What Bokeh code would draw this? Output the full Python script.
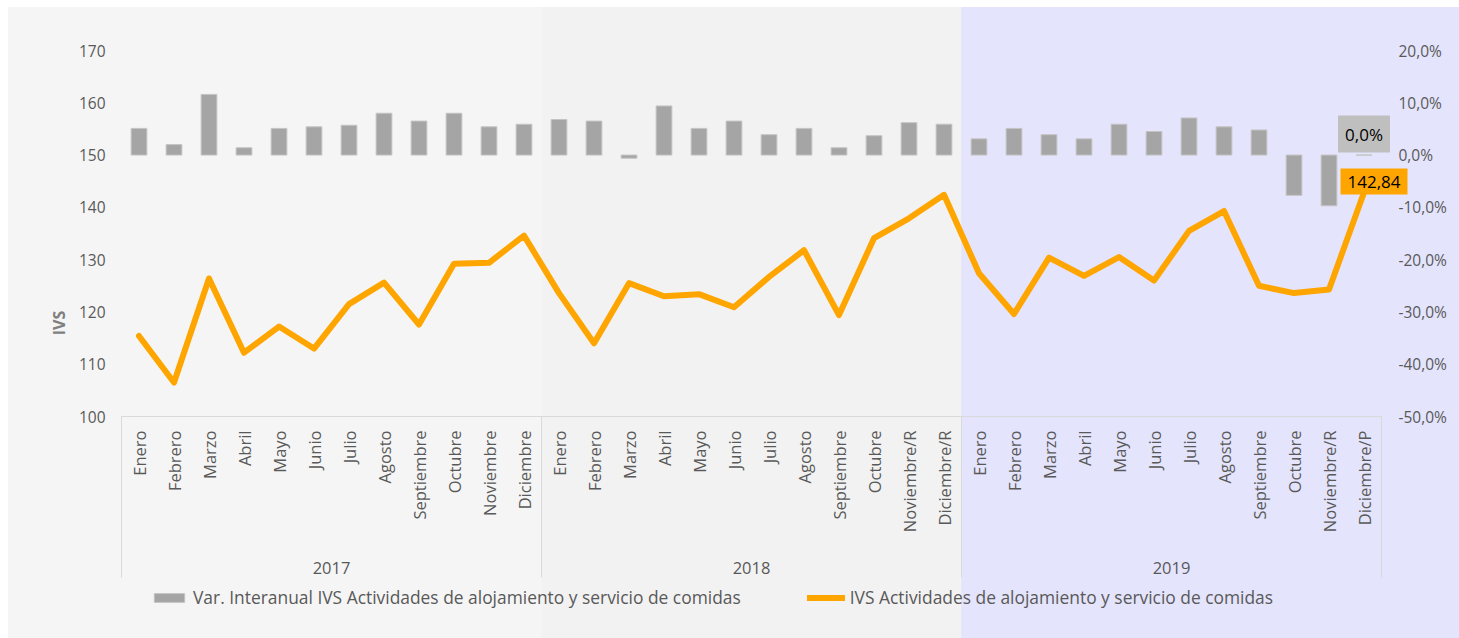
import math
from bokeh.plotting import figure
from bokeh.models import (FactorRange, Range1d, LinearAxis, CustomJSTickFormatter, BoxAnnotation,
                          Label, Legend, LegendItem, FixedTicker, ColumnDataSource)
from bokeh.core.properties import value
from bokeh.embed import file_html
from bokeh.resources import INLINE

# ---------------- data ----------------
years = ["2017", "2018", "2019"]
months_2017 = ["Enero", "Febrero", "Marzo", "Abril", "Mayo", "Junio", "Julio", "Agosto",
               "Septiembre", "Octubre", "Noviembre", "Diciembre"]
months_2018 = ["Enero", "Febrero", "Marzo", "Abril", "Mayo", "Junio", "Julio", "Agosto",
               "Septiembre", "Octubre", "Noviembre/R", "Diciembre/R"]
months_2019 = ["Enero", "Febrero", "Marzo", "Abril", "Mayo", "Junio", "Julio", "Agosto",
               "Septiembre", "Octubre", "Noviembre/R", "Diciembre/P"]

ivs_2017 = [115.4, 106.5, 126.4, 112.2, 117.2, 113.0, 121.5, 125.6, 117.6, 129.2, 129.4, 134.6]
ivs_2018 = [123.6, 114.0, 125.5, 123.0, 123.4, 120.9, 126.7, 131.8, 119.4, 134.1, 137.9, 142.4]
ivs_2019 = [127.4, 119.6, 130.4, 126.9, 130.5, 126.0, 135.5, 139.3, 125.0, 123.6, 124.3, 142.84]

var_2017 = [5.1, 2.0, 11.6, 1.4, 5.1, 5.4, 5.7, 8.0, 6.5, 8.0, 5.4, 5.9]
var_2018 = [6.8, 6.5, -0.6, 9.4, 5.1, 6.5, 3.9, 5.1, 1.4, 3.7, 6.2, 5.9]
var_2019 = [3.1, 5.1, 3.9, 3.1, 5.9, 4.5, 7.1, 5.4, 4.8, -7.7, -9.7, 0.0]

left_ticks = [100, 110, 120, 130, 140, 150, 160, 170]
right_ticks = [-50, -40, -30, -20, -10, 0, 10, 20]

bar_name = "Var. Interanual IVS Actividades de alojamiento y servicio de comidas"
line_name = "IVS Actividades de alojamiento y servicio de comidas"

# ---------------- layout constants (pixels) ----------------
W, H = 1459, 638
WHITE_L, WHITE_T = 8, 7          # white page strip left/top
PLOT_L, PLOT_R = 121, 1381       # category area
PLOT_T, PLOT_B = 50, 416         # value area
PAD = 28                         # frame extends beyond the category area
SEP_B = 577                      # bottom of the category box lines

month_lists = [months_2017, months_2018, months_2019]
factors = [(y, m) for y, ms in zip(years, month_lists) for m in ms]
ivs = ivs_2017 + ivs_2018 + ivs_2019
var = var_2017 + var_2018 + var_2019
src = ColumnDataSource(dict(x=factors, ivs=ivs, var=var))

n = len(factors)
step = (PLOT_R - PLOT_L) / n
k = (PLOT_B - PLOT_T) / (left_ticks[-1] - left_ticks[0])   # px per unit (both axes)

y_start = left_ticks[0] - (H - PLOT_B) / k
y_end = left_ticks[-1] + (PLOT_T - WHITE_T) / k
p_start = right_ticks[0] - (H - PLOT_B) / k
p_end = right_ticks[-1] + (PLOT_T - WHITE_T) / k
y_sep = left_ticks[0] - (SEP_B - PLOT_B) / k

edges = [0]
for ms in month_lists:
    edges.append(edges[-1] + len(ms))
band_colors = ["#F5F5F5", "#F2F2F2", "#E4E4FC"]

GREY_TXT = "#595959"
FONT = "Open Sans"

frame_l = PLOT_L - PAD
frame_r = PLOT_R + PAD

p = figure(width=W, height=H,
           x_range=FactorRange(factors=factors, group_padding=0, factor_padding=0,
                               range_padding=PAD / step, range_padding_units="absolute"),
           y_range=Range1d(y_start, y_end),
           output_backend="svg", toolbar_location=None, x_axis_location=None,
           min_border_left=frame_l, min_border_right=W - frame_r,
           min_border_top=WHITE_T, min_border_bottom=0)
p.extra_y_ranges = {"pct": Range1d(p_start, p_end)}
p.background_fill_alpha = 0
p.border_fill_alpha = 0
p.outline_line_color = None
p.grid.grid_line_color = None

# page background outside the frame: same year bands
b1 = PLOT_L + edges[1] * step
b2 = PLOT_L + edges[2] * step
p.styles = {"background":
            f"linear-gradient(to bottom, white 0px, white {WHITE_T}px, transparent {WHITE_T}px), "
            f"linear-gradient(to right, white 0px, white {WHITE_L}px, {band_colors[0]} {WHITE_L}px, "
            f"{band_colors[0]} {b1}px, {band_colors[1]} {b1}px, {band_colors[1]} {b2}px, "
            f"{band_colors[2]} {b2}px)"}

# year bands inside the frame
for i, col in enumerate(band_colors):
    p.add_layout(BoxAnnotation(left=None if i == 0 else edges[i],
                               right=None if i == len(band_colors) - 1 else edges[i + 1],
                               fill_color=col, fill_alpha=1, line_color=None, level="underlay"))

# category box: axis line + separators
p.segment(x0=[edges[0]], y0=[left_ticks[0]], x1=[edges[-1]], y1=[left_ticks[0]],
          line_color="#D9D9D9", line_width=1)
p.segment(x0=edges, y0=[left_ticks[0]] * len(edges), x1=edges, y1=[y_sep] * len(edges),
          line_color="#D9D9D9", line_width=1)

# month and year labels
p.text(x=factors, y=[left_ticks[0]] * n, text=[m for ms in month_lists for m in ms],
       angle=math.pi / 2, text_align="right", text_baseline="middle", y_offset=14,
       text_font=value(FONT), text_font_size="16.5px", text_color=GREY_TXT)
p.text(x=years, y=[left_ticks[0]] * len(years), text=years,
       text_align="center", text_baseline="middle", y_offset=151,
       text_font=value(FONT), text_font_size="16.5px", text_color=GREY_TXT)

bars = p.vbar(x="x", top="var", bottom=0, width=0.45, source=src, y_range_name="pct",
              fill_color="#A5A5A5", line_color="#C4C4C4", line_width=1)
line = p.line(x="x", y="ivs", source=src, line_color="#FFA500", line_width=6,
              line_join="round", line_cap="round")

# left axis
ya = p.yaxis[0]
ya.ticker = FixedTicker(ticks=left_ticks)
ya.axis_label = "IVS"
ya.axis_label_text_font = FONT
ya.axis_label_text_font_style = "bold"
ya.axis_label_text_font_size = "16px"
ya.axis_label_text_color = "#808080"
ya.axis_label_standoff = 6
ya.axis_line_color = None
ya.major_tick_line_color = None
ya.minor_tick_line_color = None
ya.major_tick_out = 0
ya.major_tick_in = 0
ya.major_label_standoff = -PAD + 16
ya.major_label_text_font = FONT
ya.major_label_text_font_size = "15.5px"
ya.major_label_text_color = GREY_TXT

# right axis
ra = LinearAxis(y_range_name="pct", ticker=FixedTicker(ticks=right_ticks),
                formatter=CustomJSTickFormatter(code="return tick.toFixed(1).replace('.', ',') + '%';"))
ra.axis_line_color = None
ra.major_tick_line_color = None
ra.minor_tick_line_color = None
ra.major_tick_out = 0
ra.major_tick_in = 0
ra.major_label_standoff = -PAD + 17
ra.major_label_text_font = FONT
ra.major_label_text_font_size = "15.5px"
ra.major_label_text_color = GREY_TXT
p.add_layout(ra, "right")

# data labels for the last point
last_x = n - 0.5
p.add_layout(Label(x=last_x, y=var[-1], y_range_name="pct",
                   text=f"{var[-1]:.1f}".replace(".", ",") + "%",
                   y_offset=21, text_align="center", text_baseline="middle",
                   text_font=FONT, text_font_size="17px", text_color="black",
                   background_fill_color="#BFBFBF", padding=7))
p.add_layout(Label(x=last_x, y=ivs[-1],
                   text=f"{ivs[-1]:.2f}".replace(".", ","),
                   x_offset=10, y_offset=11, text_align="center", text_baseline="middle",
                   text_font=FONT, text_font_size="17px", text_color="black",
                   background_fill_color="#FFA500", padding=7))

legend = Legend(items=[LegendItem(label=bar_name, renderers=[bars]),
                       LegendItem(label=line_name, renderers=[line])],
                orientation="horizontal", location=(150 - frame_l, H - 609),
                label_text_font=FONT, label_text_font_size="17.4px", label_text_color=GREY_TXT,
                border_line_color=None, background_fill_alpha=0, label_height=20,
                glyph_width=38, glyph_height=11, spacing=66, label_standoff=5, padding=0, margin=0)
p.add_layout(legend)

open("out.html", "w").write(file_html(p, INLINE))
